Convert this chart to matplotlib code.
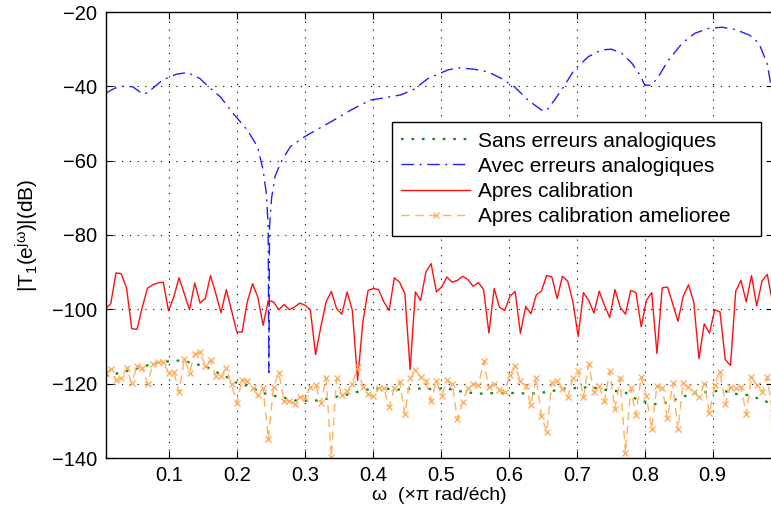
import numpy as np
import matplotlib
matplotlib.use("Agg")
import matplotlib.pyplot as plt

plt.rcParams['font.family'] = ['Liberation Sans', 'DejaVu Sans']
plt.rcParams['mathtext.fontset'] = 'custom'
plt.rcParams['mathtext.rm'] = 'Liberation Sans'
plt.rcParams['mathtext.it'] = 'Liberation Sans'

# frequency grid (x pi rad/ech) of the calibrated curves
omega = np.linspace(0.006, 0.988, 128)

# Apres calibration
red = [-99.8, -98.5, -90.2, -90.4, -94.2, -105.2, -105.4, -99.4, -94.3, -93.4,
       -92.9, -92.7, -100.4, -96.7, -91.5, -95.8, -100.1, -92.9, -98.3, -97.1,
       -90.9, -95.8, -100.9, -94.7, -100.3, -106.1, -106.1, -98.0, -93.1, -96.7,
       -104.3, -97.6, -98.0, -100.1, -98.7, -100.1, -99.4, -98.3, -98.9, -100.1,
       -112.2, -104.7, -98.0, -95.2, -99.8, -101.3, -95.3, -100.3, -119.1, -103.4,
       -94.9, -94.4, -94.7, -98.0, -100.3, -91.5, -92.7, -95.8, -116.2, -95.3,
       -97.6, -90.0, -87.7, -95.3, -94.0, -91.3, -92.7, -92.2, -91.1, -92.0,
       -93.8, -92.8, -94.7, -106.4, -94.4, -99.4, -100.3, -96.5, -95.2, -106.5,
       -99.2, -101.2, -96.2, -95.1, -90.9, -91.3, -97.1, -91.1, -92.4, -98.0,
       -107.3, -95.5, -97.6, -101.0, -95.1, -98.9, -102.2, -94.7, -99.4, -101.3,
       -94.9, -95.5, -104.7, -97.6, -95.5, -111.9, -94.2, -94.0, -98.5, -103.2,
       -96.5, -93.4, -98.0, -113.3, -103.9, -106.4, -100.1, -100.7, -113.5, -115.1,
       -95.1, -92.2, -98.0, -90.9, -99.1, -92.4, -90.6, -98.0]

# Apres calibration amelioree
orange = [-117.1, -116.1, -118.9, -118.6, -115.9, -119.8, -115.3, -115.7, -120.0, -114.8,
          -114.2, -114.3, -117.0, -116.8, -122.2, -113.3, -117.0, -112.1, -111.5, -115.2,
          -113.7, -118.0, -118.0, -115.8, -120.2, -125.2, -118.9, -119.3, -121.1, -123.1,
          -121.1, -134.9, -120.9, -117.1, -124.6, -124.6, -125.4, -123.6, -123.8, -120.9,
          -120.4, -125.2, -118.5, -139.7, -118.6, -123.1, -122.0, -120.0, -115.5, -121.0,
          -122.8, -123.4, -121.1, -121.1, -126.3, -121.1, -119.5, -128.2, -118.6, -116.4,
          -118.2, -119.3, -124.6, -119.4, -123.3, -118.9, -120.0, -129.6, -124.9, -121.3,
          -120.0, -120.4, -114.0, -120.9, -120.0, -121.6, -122.2, -117.7, -115.2, -119.4,
          -120.7, -125.8, -118.4, -128.7, -133.0, -119.7, -119.2, -121.4, -123.6, -118.4,
          -116.7, -123.6, -114.8, -122.3, -120.7, -124.6, -116.7, -126.8, -118.6, -138.7,
          -121.3, -128.4, -118.1, -123.4, -132.1, -120.5, -121.1, -129.3, -119.8, -132.3,
          -119.7, -121.0, -122.2, -123.7, -120.1, -128.0, -120.4, -116.8, -125.5, -121.0,
          -121.1, -120.8, -128.2, -118.2, -120.4, -122.2, -118.3, -127.9]

# Avec erreurs analogiques
blue_w = [0.006, 0.0195, 0.031, 0.046, 0.061, 0.068, 0.079, 0.090, 0.111, 0.127,
          0.145, 0.157, 0.175, 0.194, 0.215, 0.230, 0.238, 0.243, 0.2455, 0.2465,
          0.2475, 0.2505, 0.256, 0.266, 0.278, 0.296, 0.312, 0.342, 0.367, 0.396,
          0.416, 0.441, 0.460, 0.481, 0.510, 0.525, 0.549, 0.569, 0.589, 0.608,
          0.628, 0.648, 0.655, 0.667, 0.682, 0.696, 0.717, 0.736, 0.751, 0.766,
          0.781, 0.793, 0.800, 0.810, 0.820, 0.835, 0.855, 0.874, 0.894, 0.914,
          0.933, 0.954, 0.968, 0.980, 0.988]
blue = [-41.9, -40.5, -40.0, -40.1, -42.1, -41.7, -40.0, -38.3, -36.7, -36.3,
        -37.9, -40.0, -42.8, -47.3, -51.8, -56.3, -62.5, -69.0, -78.0, -117.0,
        -78.0, -70.0, -64.0, -59.8, -56.3, -53.9, -52.2, -49.1, -46.4, -43.7,
        -43.1, -42.3, -40.8, -37.9, -35.6, -35.0, -35.4, -36.1, -37.9, -40.1,
        -43.7, -46.4, -46.6, -43.7, -39.7, -35.6, -32.0, -30.2, -30.0, -31.1,
        -33.8, -37.0, -39.7, -39.7, -37.4, -32.9, -28.4, -25.7, -24.4, -24.1,
        -24.7, -26.2, -28.4, -33.8, -42.0]

# Sans erreurs analogiques
green_w = [0.006, 0.017, 0.025, 0.037, 0.051, 0.061, 0.076, 0.085, 0.099, 0.114,
           0.126, 0.141, 0.154, 0.165, 0.175, 0.188, 0.200, 0.212, 0.223, 0.235,
           0.247, 0.266, 0.283, 0.303, 0.322, 0.340, 0.359, 0.377, 0.399, 0.416,
           0.436, 0.460, 0.478, 0.492, 0.504, 0.532, 0.555, 0.581, 0.606, 0.633,
           0.658, 0.682, 0.707, 0.719, 0.747, 0.770, 0.781, 0.793, 0.815, 0.825,
           0.840, 0.869, 0.914, 0.931, 0.954, 0.980, 0.988]
green = [-117.8, -117.7, -117.1, -116.6, -116.0, -115.3, -114.8, -114.2, -114.0, -113.8,
         -114.1, -114.8, -115.5, -116.4, -117.5, -118.5, -119.9, -120.4, -121.3, -122.2,
         -123.1, -123.6, -124.5, -124.6, -124.5, -123.7, -123.1, -122.2, -121.3, -121.3,
         -121.6, -121.3, -121.3, -121.6, -121.1, -122.2, -122.7, -122.5, -122.5, -122.7,
         -122.2, -121.3, -121.1, -120.9, -121.8, -122.2, -123.6, -124.5, -125.5, -125.4,
         -124.6, -122.7, -121.8, -122.7, -123.1, -124.9, -125.4]

fig = plt.figure(figsize=(7.71, 5.08), dpi=100)
ax = fig.add_axes([105.5 / 771, 50 / 508, 667 / 771, 446 / 508])

ax.plot(green_w, green, color='#108a10', lw=1.6, linestyle=(0, (1.2, 3.5)),
        label='Sans erreurs analogiques')
ax.plot(blue_w, blue, color='#2020ff', lw=1.0, linestyle=(0, (9, 4, 1.5, 4)),
        label='Avec erreurs analogiques')
ax.plot(omega, red, color='#ff1010', lw=1.0, label='Apres calibration')
ax.plot(omega, orange, color='#ffb060', lw=1.0, linestyle=(0, (6, 4)),
        marker='x', markersize=4, markeredgewidth=1.0,
        label='Apres calibration amelioree')

ax.set_xlim(omega[0], omega[-1])
ax.set_ylim(-140, -20)
ax.set_xticks(np.arange(0.1, 0.95, 0.1))
ax.set_xticklabels(['0.1', '0.2', '0.3', '0.4', '0.5', '0.6', '0.7', '0.8', '0.9'])
ax.set_yticks(np.arange(-140, -19, 20))
ax.set_yticklabels(['\u2212140', '\u2212120', '\u2212100', '\u221280', '\u221260', '\u221240', '\u221220'])
ax.tick_params(direction='in', top=True, right=True, labelsize=14.5, length=5, pad=6)
ax.grid(True, color='black', linestyle=(0, (1, 6)), linewidth=0.8)
for s in ax.spines.values():
    s.set_linewidth(1.0)

ax.set_xlabel('\u03c9  (\u00d7\u03c0 rad/\u00e9ch)', fontsize=14)
ax.xaxis.set_label_coords(0.5, -0.066)
ax.set_ylabel(r'$\mathregular{|T_1(e^{j\omega})|(dB)}$', fontsize=15, labelpad=8)

leg = ax.legend(loc='upper left', bbox_to_anchor=(0.4295, 0.0, 0.553, 0.753),
                mode='expand', borderaxespad=0,
                fontsize=15, fancybox=False, framealpha=1, edgecolor='black',
                handlelength=3.3, handletextpad=0.4, labelspacing=0.3, borderpad=0.45)
leg.get_frame().set_linewidth(1.0)

fig.savefig('out.png', dpi=100)
